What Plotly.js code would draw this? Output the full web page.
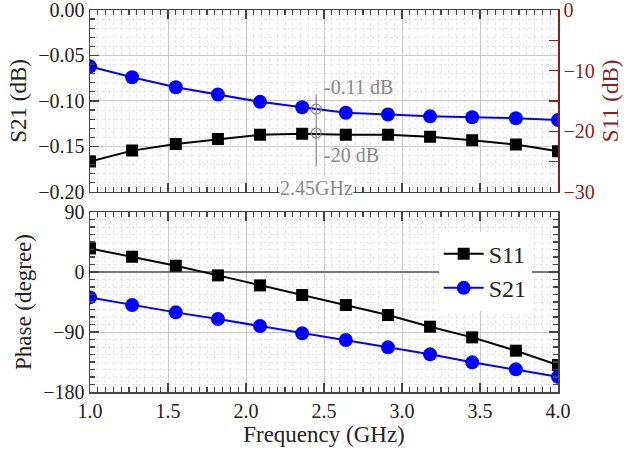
<!DOCTYPE html>
<html>
<head>
<meta charset="utf-8">
<script src="https://cdn.plot.ly/plotly-3.0.1.min.js"></script>
<style>
  body { margin: 0; background: #fff; }
  #chart { width: 630px; height: 455px; }
</style>
</head>
<body>
<div id="chart"></div>
<script>
// frequency points (GHz)
var freq = [1.0, 1.27, 1.55, 1.82, 2.09, 2.36, 2.64, 2.91, 3.18, 3.45, 3.73, 4.0];

// top panel: magnitudes
var s21Db = [-0.062, -0.074, -0.085, -0.093, -0.101, -0.107, -0.113, -0.115, -0.117, -0.118, -0.119, -0.121];
var s11Db = [-25.0, -23.2, -22.1, -21.3, -20.6, -20.4, -20.6, -20.6, -20.9, -21.5, -22.2, -23.3];

// bottom panel: phase (degree)
var s11Phase = [35.5, 23, 9.5, -5, -20, -34.5, -49.5, -64.5, -82, -98, -118, -139.5];
var s21Phase = [-38, -49.5, -60.5, -70.5, -81, -92, -102, -113, -123.5, -135.5, -146, -157];

// marker at 2.45 GHz
var markFreq = [2.45];
var markS21 = [-0.109];
var markS11 = [-20.3];

var serif = '"Liberation Serif", "DejaVu Serif", serif';
var darkRed = 'rgb(140,30,30)';
var frame = '#444';
var gridMajor = '#c8c8c8';
var gridMinor = '#e6e6e6';

var s11Style = {color: 'black', width: 2};
var s21Style = {color: 'rgb(0,0,255)', width: 2};

var traces = [
    {
        x: freq, y: s11Db, xaxis: 'x2', yaxis: 'y3',
        type: 'scatter', mode: 'lines+markers',
        line: s11Style, marker: {symbol: 'square', size: 12, color: 'black'},
        showlegend: false, hoverinfo: 'skip'
    },
    {
        x: freq, y: s21Db, xaxis: 'x2', yaxis: 'y2',
        type: 'scatter', mode: 'lines+markers',
        line: s21Style, marker: {symbol: 'circle', size: 14, color: 'rgb(0,0,255)'},
        showlegend: false, hoverinfo: 'skip'
    },
    {
        x: markFreq, y: markS21, xaxis: 'x2', yaxis: 'y2',
        type: 'scatter', mode: 'markers',
        marker: {symbol: 'circle-open', size: 10, color: '#888', line: {width: 1.2, color: '#888'}},
        showlegend: false, hoverinfo: 'skip'
    },
    {
        x: markFreq, y: markS11, xaxis: 'x2', yaxis: 'y3',
        type: 'scatter', mode: 'markers',
        marker: {symbol: 'circle-open', size: 10, color: '#888', line: {width: 1.2, color: '#888'}},
        showlegend: false, hoverinfo: 'skip'
    },
    {
        name: 'S11', x: freq, y: s11Phase, xaxis: 'x', yaxis: 'y',
        type: 'scatter', mode: 'lines+markers',
        line: s11Style, marker: {symbol: 'square', size: 12, color: 'black'}
    },
    {
        name: 'S21', x: freq, y: s21Phase, xaxis: 'x', yaxis: 'y',
        type: 'scatter', mode: 'lines+markers',
        line: s21Style, marker: {symbol: 'circle', size: 14, color: 'rgb(0,0,255)'}
    }
];

function xAxisBase() {
    return {
        range: [1.0, 4.0],
        tick0: 1.0,
        dtick: 0.5,
        ticks: 'inside', ticklen: 9, tickwidth: 1.2, tickcolor: frame,
        showline: true, linecolor: frame, linewidth: 1.5, mirror: 'ticks',
        showgrid: true, gridcolor: gridMajor, gridwidth: 1,
        zeroline: false,
        minor: {dtick: 0.05, ticks: 'inside', ticklen: 5, tickcolor: frame,
                showgrid: true, gridcolor: gridMinor, griddash: 'dot'},
        ticklabeloverflow: 'allow',
        tickfont: {family: serif, size: 20, color: '#222'}
    };
}

var xBottom = xAxisBase();
xBottom.anchor = 'y';
xBottom.tickformat = '.1f';
xBottom.title = {text: 'Frequency (GHz)', font: {family: serif, size: 23, color: '#222'}, standoff: 5};

var xTop = xAxisBase();
xTop.anchor = 'y2';
xTop.matches = 'x';
xTop.showticklabels = false;

var layout = {
    width: 630,
    height: 455,
    margin: {l: 90, r: 72, t: 10, b: 63},
    paper_bgcolor: 'white',
    plot_bgcolor: 'white',
    font: {family: serif, color: '#222'},
    showlegend: true,
    legend: {
        x: 0.745, y: 0.42, xanchor: 'left', yanchor: 'top',
        bgcolor: 'white', borderwidth: 0,
        font: {family: serif, size: 24, color: '#222'},
        tracegroupgap: 0, itemwidth: 40
    },
    xaxis: xBottom,
    xaxis2: xTop,
    yaxis: {
        domain: [0, 0.471],
        anchor: 'x',
        range: [-180, 90],
        tick0: 0,
        dtick: 90,
        ticks: 'inside', ticklen: 9, tickwidth: 1.2, tickcolor: frame,
        showline: true, linecolor: frame, linewidth: 1.5, mirror: 'ticks',
        showgrid: true, gridcolor: gridMajor,
        zeroline: true, zerolinecolor: '#777', zerolinewidth: 1.3,
        minor: {dtick: 11.25, ticks: 'inside', ticklen: 5, tickcolor: frame,
                showgrid: true, gridcolor: gridMinor, griddash: 'dot'},
        ticklabeloverflow: 'allow',
        tickfont: {family: serif, size: 20, color: '#222'},
        title: {text: 'Phase (degree)', font: {family: serif, size: 23, color: '#222'}, standoff: 5}
    },
    yaxis2: {
        domain: [0.524, 1],
        anchor: 'x2',
        range: [-0.2, 0],
        tick0: 0,
        dtick: 0.05,
        tickformat: '.2f',
        ticks: 'inside', ticklen: 9, tickwidth: 1.2, tickcolor: frame,
        showline: true, linecolor: frame, linewidth: 1.5,
        showgrid: true, gridcolor: gridMajor,
        zeroline: false,
        minor: {dtick: 0.01, ticks: 'inside', ticklen: 5, tickcolor: frame,
                showgrid: true, gridcolor: gridMinor, griddash: 'dot'},
        ticklabeloverflow: 'allow',
        tickfont: {family: serif, size: 20, color: '#222'},
        title: {text: 'S21 (dB)', font: {family: serif, size: 23, color: '#222'}, standoff: 5}
    },
    yaxis3: {
        overlaying: 'y2',
        anchor: 'x2',
        side: 'right',
        range: [-30, 0],
        tick0: 0,
        dtick: 10,
        ticks: 'inside', ticklen: 9, tickwidth: 1.2, tickcolor: darkRed,
        showline: true, linecolor: darkRed, linewidth: 1.5,
        showgrid: false, zeroline: false,
        minor: {dtick: 5, ticks: 'inside', ticklen: 9, tickcolor: darkRed, showgrid: false},
        ticklabeloverflow: 'allow',
        tickfont: {family: serif, size: 20, color: darkRed},
        title: {text: 'S11 (dB)', font: {family: serif, size: 23, color: darkRed}, standoff: 8}
    },
    shapes: [
        {
            type: 'line', xref: 'x2', yref: 'y2',
            x0: markFreq[0], x1: markFreq[0], y0: -0.093, y1: -0.172,
            line: {color: '#888', width: 1.2}
        }
    ],
    annotations: [
        {
            xref: 'x2', yref: 'y2', x: markFreq[0], y: -0.085,
            text: '-0.11 dB', showarrow: false, xanchor: 'left', xshift: 6,
            font: {family: serif, size: 20, color: '#888'}
        },
        {
            xref: 'x2', yref: 'y2', x: markFreq[0], y: -0.160,
            text: '-20 dB', showarrow: false, xanchor: 'left', xshift: 6,
            font: {family: serif, size: 20, color: '#888'}
        },
        {
            xref: 'x2', yref: 'y2', x: markFreq[0], y: -0.196,
            text: '2.45GHz', showarrow: false, xanchor: 'center',
            bgcolor: 'white', borderpad: 0,
            font: {family: serif, size: 20, color: '#888'}
        }
    ]
};

Plotly.newPlot('chart', traces, layout, {displayModeBar: false, staticPlot: true});
</script>
</body>
</html>
